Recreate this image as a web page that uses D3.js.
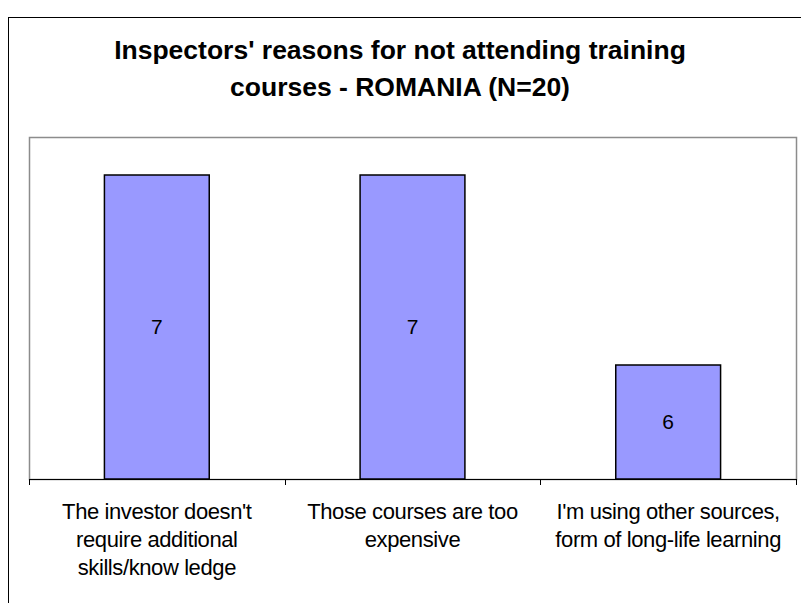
<!DOCTYPE html>
<html>
<head>
<meta charset="utf-8">
<script src="https://cdn.jsdelivr.net/npm/d3@7"></script>
<style>
  body { margin: 0; background: #fff; }
  svg { display: block; font-family: "Liberation Sans", Arial, sans-serif; }
</style>
</head>
<body>
<svg id="chart"></svg>
<script>
// data
var titleLines = ["Inspectors' reasons for not attending training", "courses - ROMANIA (N=20)"];
var categories = [
  ["The investor doesn't", "require additional", "skills/know ledge"],
  ["Those courses are too", "expensive"],
  ["I'm using other sources,", "form of long-life learning"]
];
var values = [7, 7, 6];
var yDomain = [5.4, 7.2];

var width = 801, height = 603;
var plot = { left: 29, right: 796, top: 137, bottom: 479 };

var svg = d3.select('#chart').attr('width', width).attr('height', height);

// outer frame
svg.append('rect')
  .attr('x', 8.5).attr('y', 17.5)
  .attr('width', 820).attr('height', 620)
  .attr('fill', 'none').attr('stroke', '#000').attr('stroke-width', 1);

// title
svg.append('g').selectAll('text')
  .data(titleLines).enter().append('text')
  .attr('x', 400)
  .attr('y', function (d, i) { return 59 + i * 37; })
  .attr('text-anchor', 'middle')
  .attr('font-size', 26.5).attr('font-weight', 'bold')
  .text(function (d) { return d; });

var x = d3.scaleBand()
  .domain(d3.range(values.length))
  .range([plot.left, plot.right])
  .paddingInner(0).paddingOuter(0);

var y = d3.scaleLinear().domain(yDomain).range([plot.bottom, plot.top]);

// plot area border
svg.append('rect')
  .attr('x', plot.left + 0.5).attr('y', plot.top + 0.5)
  .attr('width', plot.right - plot.left).attr('height', plot.bottom - plot.top)
  .attr('fill', '#fff').attr('stroke', '#8c8c8c').attr('stroke-width', 1.5);

var barW = x.bandwidth() * 0.41;

svg.append('g').selectAll('rect')
  .data(values).enter().append('rect')
  .attr('x', function (d, i) { return x(i) + (x.bandwidth() - barW) / 2; })
  .attr('y', function (d) { return y(d); })
  .attr('width', barW)
  .attr('height', function (d) { return y(yDomain[0]) - y(d); })
  .attr('fill', '#9999ff').attr('stroke', '#000').attr('stroke-width', 1.5);

// value labels
svg.append('g').selectAll('text')
  .data(values).enter().append('text')
  .attr('x', function (d, i) { return x(i) + x.bandwidth() / 2; })
  .attr('y', function (d) { return (y(d) + y(yDomain[0])) / 2 + 7; })
  .attr('text-anchor', 'middle').attr('font-size', 21)
  .text(function (d) { return d; });

// x axis line + ticks between categories
var axis = svg.append('g');
axis.append('line')
  .attr('x1', plot.left).attr('x2', plot.right + 1)
  .attr('y1', plot.bottom + 0.5).attr('y2', plot.bottom + 0.5)
  .attr('stroke', '#000');
var tickPos = x.domain().map(function (i) { return x(i); }).concat([plot.right]);
axis.selectAll('line.tick')
  .data(tickPos).enter().append('line')
  .attr('class', 'tick')
  .attr('x1', function (d) { return Math.round(d) + 0.5; })
  .attr('x2', function (d) { return Math.round(d) + 0.5; })
  .attr('y1', plot.bottom).attr('y2', plot.bottom + 6)
  .attr('stroke', '#000');

// category labels
var cat = svg.append('g').selectAll('g')
  .data(categories).enter().append('g');
cat.selectAll('text')
  .data(function (d, i) { return d.map(function (t) { return { t: t, i: i }; }); })
  .enter().append('text')
  .attr('x', function (d) { return x(d.i) + x.bandwidth() / 2; })
  .attr('y', function (d, j) { return 519 + j * 28; })
  .attr('text-anchor', 'middle').attr('font-size', 22)
  .attr('letter-spacing', -0.4)
  .text(function (d) { return d.t; });
</script>
</body>
</html>
